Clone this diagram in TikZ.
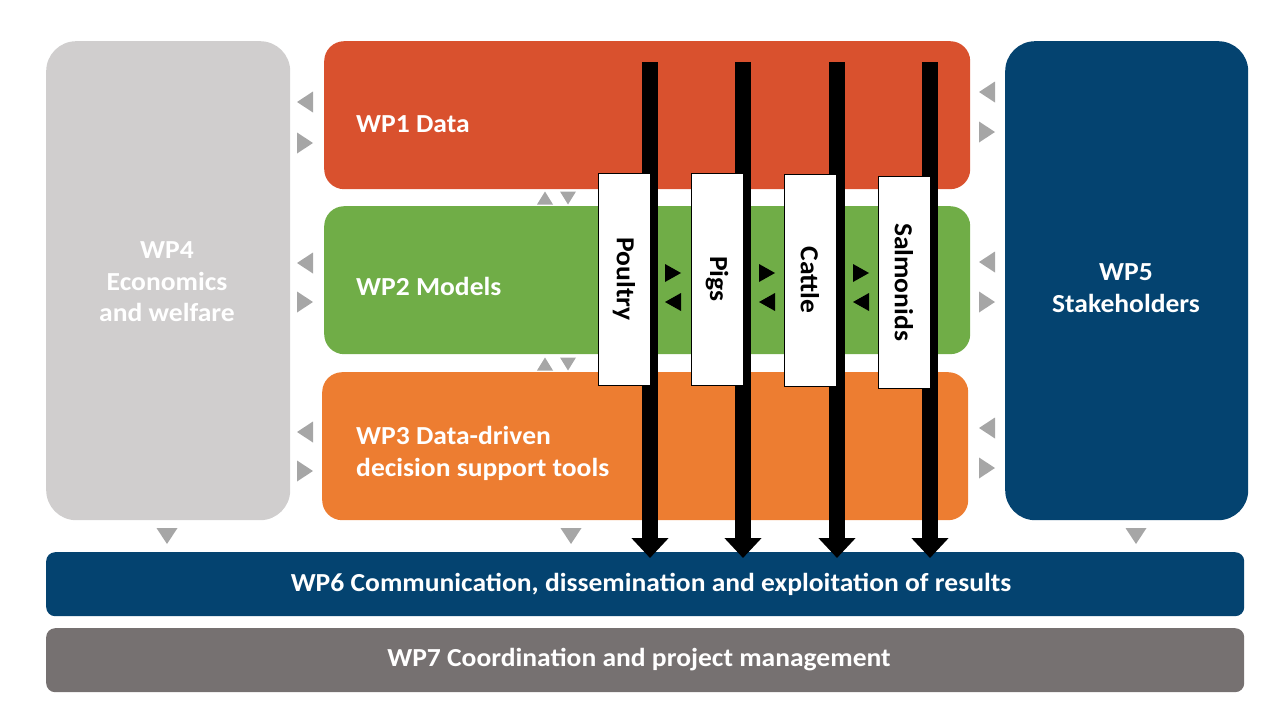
\documentclass[tikz,border=0pt]{standalone}
\usepackage{fontspec}
\setmainfont{Carlito}[FakeStretch=1.06]
\usetikzlibrary{arrows.meta}

\definecolor{wpred}{RGB}{217,81,46}
\definecolor{wpgreen}{RGB}{112,173,71}
\definecolor{wporange}{RGB}{237,125,49}
\definecolor{wpblue}{RGB}{4,67,112}
\definecolor{wplight}{RGB}{208,206,206}
\definecolor{wpdark}{RGB}{118,113,113}
\definecolor{trigray}{RGB}{166,166,166}

\tikzset{
	wpbox/.style={rounded corners=20pt, inner sep=0pt, anchor=north west},
	wplabel/.style={text=white, font=\fontsize{26}{31.5}\selectfont\bfseries, align=left, anchor=west, inner sep=0pt},
	wptitle/.style={text=white, font=\fontsize{26}{31.5}\selectfont\bfseries, align=center, inner sep=0pt},
	species/.style={draw=black, fill=white, line width=1pt, minimum width=212pt, minimum height=52pt, rotate=-90, inner sep=0pt, font=\fontsize{26}{30}\selectfont\bfseries},
	flow/.style={line width=16pt, -{Triangle[length=20pt,width=36pt]}},
	tri/.pic={\fill[trigray] (-8,-10.5) -- (8,0) -- (-8,10.5) -- cycle;},
	smalltri/.pic={\fill[trigray] (-6.5,-8) -- (6.5,0) -- (-6.5,8) -- cycle;},
	blacktri/.pic={\fill[black] (-8,-9) -- (8,0) -- (-8,9) -- cycle;}
}

\begin{document}
\begin{tikzpicture}[x=1pt,y=-1pt]
	\useasboundingbox (0,0) rectangle (1280,720);

	% work packages
	\node[wpbox, rounded corners=30pt, fill=wplight, minimum width=244pt, minimum height=479pt] (wp4) at (46,41) {};
	\node[wpbox, fill=wpred, minimum width=646pt, minimum height=148pt] (wp1) at (324,41) {};
	\node[wpbox, fill=wpgreen, minimum width=646pt, minimum height=148pt] (wp2) at (324,206) {};
	\node[wpbox, fill=wporange, minimum width=646pt, minimum height=148pt] (wp3) at (322,372) {};
	\node[wpbox, rounded corners=30pt, fill=wpblue, minimum width=243pt, minimum height=479pt] (wp5) at (1005,41) {};
	\node[wpbox, rounded corners=9pt, fill=wpblue, minimum width=1198pt, minimum height=64pt] (wp6) at (46,552) {};
	\node[wpbox, rounded corners=9pt, fill=wpdark, minimum width=1198pt, minimum height=64pt] (wp7) at (46,628) {};

	\node[wplabel] (wp1-text) at (356,124) {WP1 Data};
	\node[wplabel] (wp2-text) at (356,286) {WP2 Models};
	\node[wplabel] (wp3-text) at (356,453.5) {WP3 Data-driven\\decision support tools};
	\node[wptitle] (wp4-text) at (167,282) {WP4\\Economics\\and welfare};
	\node[wptitle] (wp5-text) at (1126,288) {WP5\\Stakeholders};
	\node[wptitle] (wp6-text) at (651,584) {WP6 Communication, dissemination and exploitation of results};
	\node[wptitle] (wp7-text) at (639,660) {WP7 Coordination and project management};

	% species flows
	\foreach \name/\xx in {poultry/650, pigs/743, cattle/837, salmonids/930}{
		\coordinate (\name-top) at (\xx,62);
		\coordinate (\name-bot) at (\xx,558);
		\draw[flow] (\name-top) -- (\name-bot);
	}
	\node[species] (poultry) at (624,279) {Poultry};
	\node[species] (pigs) at (717,279) {Pigs};
	\node[species] (cattle) at (810,280) {Cattle};
	\node[species] (salmonids) at (904,282) {Salmonids};

	\foreach \xx in {673,767,861}{
		\pic at (\xx,273) {blacktri};
		\pic[rotate=180] at (\xx,302) {blacktri};
	}

	% exchange marks
	\foreach \yy/\yb in {102/143, 263/302, 432/471}{
		\pic[rotate=180] at (305,\yy) {tri};
		\pic at (305,\yb) {tri};
	}
	\foreach \yy/\yb in {92/132, 262/302, 428/468}{
		\pic[rotate=180] at (987,\yy) {tri};
		\pic at (987,\yb) {tri};
	}
	\foreach \yy in {198,364}{
		\pic[rotate=90] at (545,\yy) {smalltri};
		\pic[rotate=-90] at (568,\yy) {smalltri};
	}
	\foreach \xx in {167,571,1136}{
		\pic[rotate=-90] at (\xx,536) {tri};
	}
\end{tikzpicture}
\end{document}
